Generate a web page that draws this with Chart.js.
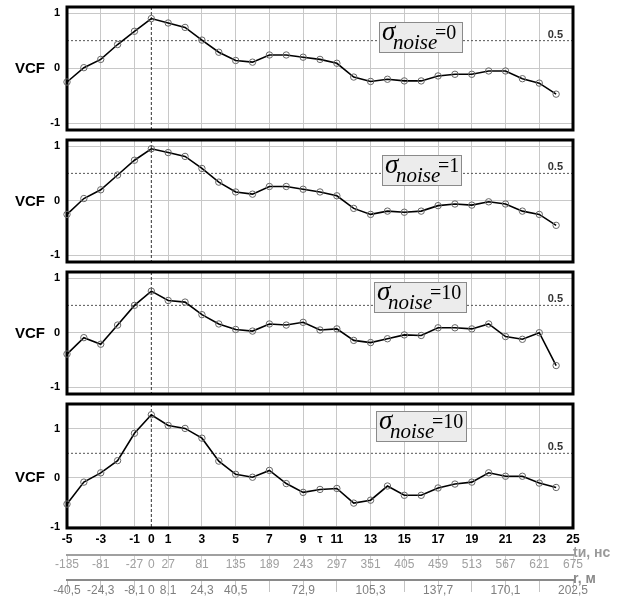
<!DOCTYPE html>
<html>
<head>
<meta charset="utf-8">
<script src="https://cdn.jsdelivr.net/npm/chart.js@4.4.1/dist/chart.umd.min.js"></script>
<style>
	body { margin: 0; background: #fff; }
	#wrap { position: relative; width: 620px; height: 601px; overflow: hidden; background: #fff; font-family: "Liberation Sans", Arial, sans-serif; }
	#wrap canvas { position: absolute; left: 0; }
	.vcf { position: absolute; left: 15px; font-weight: bold; font-size: 15px; line-height: 16px; color: #000; }
	.leg { position: absolute; height: 29px; background: #ececec; border: 1px solid #8a8a8a; font-family: "Liberation Serif", "Times New Roman", serif; color: #000; }
	.leg span { position: absolute; line-height: 1; white-space: nowrap; }
	.leg .s { font-style: italic; font-size: 27px; left: 2px; top: -5px; }
	.leg .n { font-style: italic; font-size: 21px; left: 13px; top: 9px; }
	.leg .e { font-size: 20px; left: 55px; top: -1px; }
	.ax { position: absolute; left: 573px; font-weight: bold; font-size: 14px; line-height: 16px; }
</style>
</head>
<body>
<div id="wrap">
	<canvas id="p1" width="620" height="133" style="top:2px"></canvas>
	<canvas id="p2" width="620" height="132" style="top:135px"></canvas>
	<canvas id="p3" width="620" height="132" style="top:267px"></canvas>
	<canvas id="p4" width="620" height="202" style="top:399px"></canvas>

	<div class="vcf" style="top:60px">VCF</div>
	<div class="vcf" style="top:193px">VCF</div>
	<div class="vcf" style="top:325px">VCF</div>
	<div class="vcf" style="top:469px">VCF</div>

	<div class="leg" style="left:379px; top:22px; width:82px"><span class="s">σ</span><span class="n">noise</span><span class="e">=0</span></div>
	<div class="leg" style="left:382px; top:155px; width:78px"><span class="s">σ</span><span class="n">noise</span><span class="e">=1</span></div>
	<div class="leg" style="left:374px; top:282px; width:91px"><span class="s">σ</span><span class="n">noise</span><span class="e">=10</span></div>
	<div class="leg" style="left:376px; top:411px; width:89px"><span class="s">σ</span><span class="n">noise</span><span class="e">=10</span></div>

	<div class="ax" style="top:544px; color:#9a9a9a">tи, нс</div>
	<div class="ax" style="top:570px; color:#8a8a8a">r, м</div>
</div>

<script>
var tau = [-5, -4, -3, -2, -1, 0, 1, 2, 3, 4, 5, 6, 7, 8, 9, 10, 11, 12, 13, 14, 15, 16, 17, 18, 19, 20, 21, 22, 23, 24];

var vcfNoise0 = [-0.25, 0.01, 0.16, 0.43, 0.67, 0.90, 0.82, 0.74, 0.51, 0.29, 0.14, 0.11, 0.24, 0.24, 0.20,
	0.16, 0.09, -0.16, -0.24, -0.20, -0.23, -0.23, -0.14, -0.11, -0.11, -0.05, -0.05, -0.19, -0.27, -0.47];
var vcfNoise1 = [-0.25, 0.04, 0.20, 0.47, 0.74, 0.95, 0.88, 0.81, 0.59, 0.34, 0.16, 0.12, 0.26, 0.26, 0.21,
	0.16, 0.09, -0.14, -0.25, -0.19, -0.21, -0.19, -0.09, -0.06, -0.08, -0.02, -0.06, -0.19, -0.25, -0.45];
var vcfNoise10a = [-0.39, -0.09, -0.21, 0.14, 0.50, 0.76, 0.59, 0.56, 0.33, 0.16, 0.06, 0.03, 0.16, 0.14, 0.19,
	0.05, 0.07, -0.14, -0.18, -0.11, -0.04, -0.05, 0.09, 0.09, 0.07, 0.16, -0.07, -0.12, 0.00, -0.60];
var vcfNoise10b = [-0.54, -0.09, 0.10, 0.35, 0.91, 1.29, 1.07, 1.01, 0.81, 0.34, 0.07, 0.01, 0.15, -0.12, -0.30,
	-0.24, -0.22, -0.52, -0.46, -0.17, -0.36, -0.36, -0.21, -0.13, -0.09, 0.10, 0.03, 0.03, -0.11, -0.20];

// tick labels of the three bottom axes
var tauTicks = [-5, -3, -1, 0, 1, 3, 5, 7, 9, 10, 11, 13, 15, 17, 19, 21, 23, 25];
var tauLabels = ['-5', '-3', '-1', '0', '1', '3', '5', '7', '9', 'τ', '11', '13', '15', '17', '19', '21', '23', '25'];
var timeTicks = [-5, -3, -1, 0, 1, 3, 5, 7, 9, 11, 13, 15, 17, 19, 21, 23, 25];
var timeLabels = ['-135', '-81', '-27', '0', '27', '81', '135', '189', '243', '297', '351', '405', '459', '513', '567', '621', '675'];
var rangeLabels = ['-40,5', '-24,3', '-8,1', '0', '8,1', '24,3', '40,5', '', '72,9', '', '105,3', '', '137,7', '', '170,1', '', '202,5'];
var vcfTicks = [-1, 0, 1];
var refLevel = 0.5;
var refTau = 0;

var GRID = '#c8c8c8';
var FONT = '"Liberation Sans", Arial, sans-serif';

var framePlugin = {
	id: 'frame',
	beforeDatasetsDraw: function(chart) {
		var ctx = chart.ctx, a = chart.chartArea;
		var y5 = chart.scales.y.getPixelForValue(refLevel);
		var x0 = chart.scales.x.getPixelForValue(refTau);
		ctx.save();
		ctx.lineWidth = 1;
		ctx.strokeStyle = '#555';
		ctx.setLineDash([2, 2]);
		ctx.beginPath(); ctx.moveTo(a.left, y5); ctx.lineTo(a.right, y5); ctx.stroke();
		ctx.strokeStyle = '#333';
		ctx.setLineDash([3, 2]);
		ctx.beginPath(); ctx.moveTo(x0, a.top); ctx.lineTo(x0, a.bottom); ctx.stroke();
		ctx.setLineDash([]);
		ctx.fillStyle = '#333';
		ctx.font = 'bold 11px ' + FONT;
		ctx.textAlign = 'right';
		ctx.textBaseline = 'middle';
		ctx.fillText(String(refLevel), a.right - 10, y5 - 6);
		ctx.strokeStyle = '#000';
		ctx.lineWidth = 3;
		ctx.strokeRect(a.left, a.top, a.right - a.left, a.bottom - a.top);
		ctx.restore();
	}
};

function setTicks(list) {
	return function(scale) {
		scale.ticks = list.map(function(v) { return { value: v }; });
	};
}

function noPad(scale) {
	scale.paddingTop = 0; scale.paddingBottom = 0;
	scale.paddingLeft = 0; scale.paddingRight = 0;
}

function makePanel(id, values, yMin, yMax, bottom) {
	var scales = {
		x: {
			type: 'linear', min: -5, max: 25, weight: 0,
			afterBuildTicks: setTicks(tauTicks),
			afterFit: function(s) { s.height = bottom ? 27 : 0; noPad(s); },
			grid: {
				drawTicks: false,
				color: function(c) { return (c.tick && (c.tick.value === 10 || c.tick.value === refTau)) ? 'rgba(0,0,0,0)' : GRID; }
			},
			border: { display: false },
			ticks: {
				display: bottom, autoSkip: false, maxRotation: 0, padding: 4, color: '#000',
				font: { family: FONT, size: 12, weight: 'bold' },
				callback: function(v, i) { return tauLabels[i]; }
			}
		},
		y: {
			min: yMin, max: yMax,
			afterBuildTicks: setTicks(vcfTicks),
			afterFit: function(s) { s.width = 67; noPad(s); },
			grid: { drawTicks: false, color: GRID },
			border: { display: false },
			ticks: {
				padding: 7, color: '#000',
				font: { family: FONT, size: 11, weight: 'bold' },
				callback: function(v) { return String(v); }
			}
		}
	};
	if (bottom) {
		scales.x2 = {
			type: 'linear', min: -5, max: 25, position: 'bottom', weight: 1,
			afterBuildTicks: setTicks(timeTicks),
			afterFit: function(s) { s.height = 25; noPad(s); },
			grid: {
				drawOnChartArea: false, drawTicks: true, tickLength: 13,
				color: function(c) { return (c.tick && c.tick.value === 0) ? 'rgba(0,0,0,0)' : '#d2d2d2'; }
			},
			border: { display: true, color: '#a0a0a0', width: 2 },
			ticks: {
				autoSkip: false, maxRotation: 0, padding: -11, color: '#a0a0a0',
				font: { family: FONT, size: 12 },
				callback: function(v, i) { return timeLabels[i]; }
			}
		};
		scales.x3 = {
			type: 'linear', min: -5, max: 25, position: 'bottom', weight: 2,
			afterBuildTicks: setTicks(timeTicks),
			afterFit: function(s) { s.height = 18; noPad(s); },
			grid: {
				drawOnChartArea: false, drawTicks: true, tickLength: 12,
				color: function(c) { return (c.tick && c.tick.value === 0) ? 'rgba(0,0,0,0)' : '#c4c4c4'; }
			},
			border: { display: true, color: '#8a8a8a', width: 2 },
			ticks: {
				autoSkip: false, maxRotation: 0, padding: -9, color: '#808080',
				font: { family: FONT, size: 12 },
				callback: function(v, i) { return rangeLabels[i]; }
			}
		};
	}

	return new Chart(document.getElementById(id).getContext('2d'), {
		type: 'line',
		data: {
			datasets: [{
				data: tau.map(function(t, i) { return { x: t, y: values[i] }; }),
				borderColor: '#000',
				borderWidth: 1.6,
				tension: 0,
				pointRadius: 3.2,
				pointBorderWidth: 1,
				pointBorderColor: '#666',
				pointBackgroundColor: 'rgba(255,255,255,0)',
				clip: 6
			}]
		},
		options: {
			responsive: false,
			animation: false,
			layout: { padding: { left: 0, right: 47, top: 3, bottom: 3 } },
			plugins: { legend: { display: false }, tooltip: { enabled: false } },
			scales: scales
		},
		plugins: [framePlugin]
	});
}

makePanel('p1', vcfNoise0, -1.12, 1.11, false);
makePanel('p2', vcfNoise1, -1.12, 1.11, false);
makePanel('p3', vcfNoise10a, -1.12, 1.11, false);
makePanel('p4', vcfNoise10b, -1.03, 1.51, true);
</script>
</body>
</html>
